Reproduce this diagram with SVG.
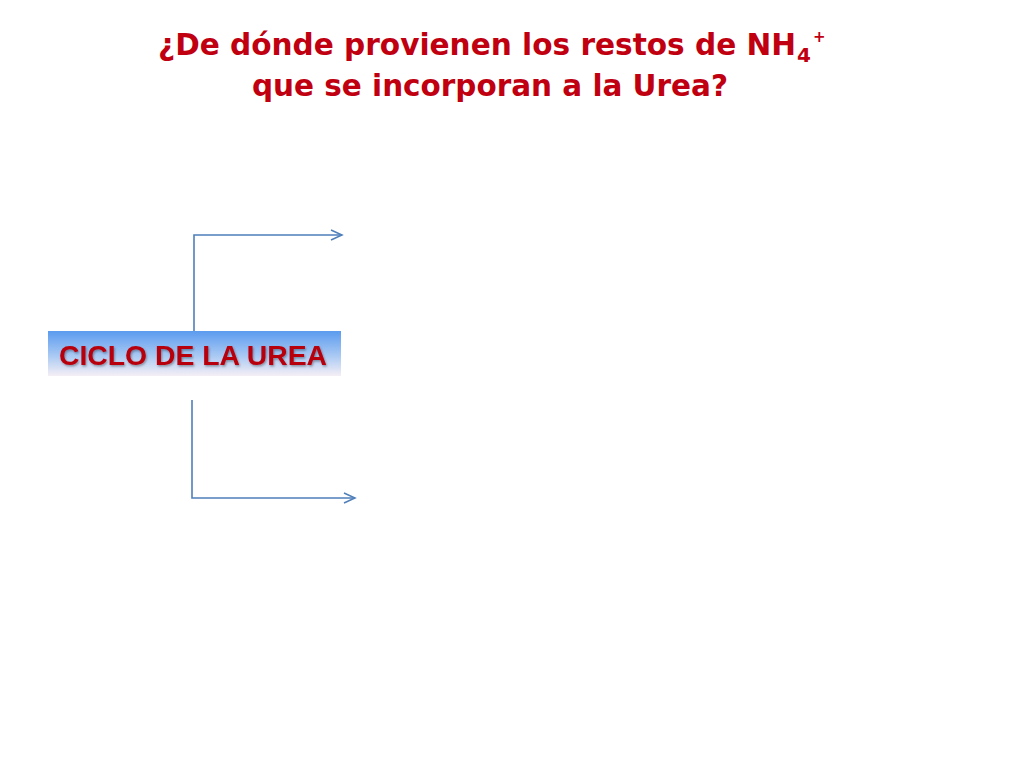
<svg xmlns="http://www.w3.org/2000/svg" width="1024" height="768" viewBox="0 0 1024 768">
<defs>
<linearGradient id="boxGrad" x1="0" y1="0" x2="0" y2="1">
<stop offset="0" stop-color="#5b9bef"/>
<stop offset="0.55" stop-color="#a9c9f3"/>
<stop offset="1" stop-color="#f5eff5"/>
</linearGradient>
<filter id="shadow" x="-5%" y="-20%" width="110%" height="140%">
<feDropShadow dx="1" dy="1.5" stdDeviation="0.8" flood-color="#000" flood-opacity="0.35"/>
</filter>
<marker id="open" markerWidth="14" markerHeight="12" refX="12" refY="6" orient="auto" markerUnits="userSpaceOnUse">
<path d="M1,1 L12,6 L1,11" fill="none" stroke="#4f7fba" stroke-width="1.5"/>
</marker>
</defs>
<style>
.title{font-family:"DejaVu Sans","Liberation Sans",sans-serif;font-weight:bold;fill:#c00010;font-size:31px}
.sub{font-size:20px}
.sup{font-size:15px}
.lbl{font-family:"Liberation Sans",Arial,sans-serif;font-weight:bold;fill:#b8000f;font-size:27px}
.conn{fill:none;stroke:#4f7fba;stroke-width:1.6}
</style>
<rect width="1024" height="768" fill="#ffffff"/>
<g id="title">
<text class="title" x="158" y="55"><tspan textLength="638" lengthAdjust="spacingAndGlyphs">¿De dónde provienen los restos de NH</tspan><tspan class="sub" dx="1" dy="7">4</tspan><tspan class="sup" dx="2" dy="-20">+</tspan></text>
<text class="title" x="490" y="96" text-anchor="middle" textLength="476" lengthAdjust="spacingAndGlyphs">que se incorporan a la Urea?</text>
</g>
<g id="connectors">
<path class="conn" d="M194,331 V235 H342" marker-end="url(#open)"/>
<path class="conn" d="M192,400 V498 H355" marker-end="url(#open)"/>
</g>
<g id="ciclo">
<rect x="48" y="331" width="293" height="45" fill="url(#boxGrad)"/>
<text class="lbl" x="193" y="365" text-anchor="middle" textLength="268" lengthAdjust="spacingAndGlyphs" filter="url(#shadow)">CICLO DE LA UREA</text>
</g>
</svg>
